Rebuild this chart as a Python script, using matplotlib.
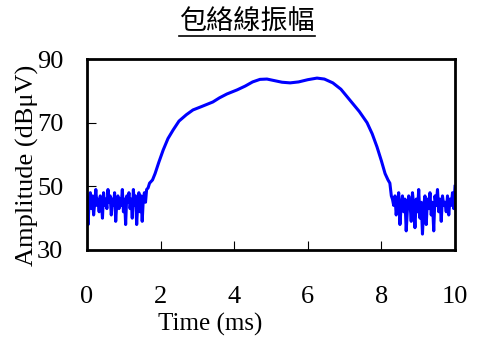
import numpy as np
import matplotlib
matplotlib.use("Agg")
from matplotlib import pyplot as plt
from matplotlib.lines import Line2D

plt.rcParams["font.family"] = ["Liberation Serif", "DejaVu Serif"]

# noisy floor before the pulse (dBuV)
left_noise = [44, 38, 46, 48, 43, 47, 41, 45, 49, 44, 46, 42, 47, 45, 40, 48, 44, 46, 43, 49,
              45, 47, 41, 46, 44, 48, 39, 45, 47, 43, 46, 44, 49, 42, 46, 38, 47, 45, 48, 43,
              46, 40, 49, 44, 47, 38, 45, 48, 42, 47, 39, 46, 48, 45, 49]
left_t = np.linspace(0, 1.62, len(left_noise))

# envelope of the pulse
pulse_t = [1.66, 1.70, 1.78, 1.85, 1.95, 2.07, 2.20, 2.34, 2.50, 2.70, 2.88, 3.10, 3.42, 3.60,
           3.80, 4.08, 4.30, 4.50, 4.70, 4.89, 5.10, 5.30, 5.52, 5.75, 6.00, 6.25, 6.45, 6.68,
           6.90, 7.15, 7.40, 7.61, 7.75, 7.88, 8.00, 8.10, 8.18, 8.23, 8.27]
pulse_y = [49.5, 51, 52, 54, 57.5, 61.4, 65, 67.7, 70.5, 72.5, 74, 75, 76.5, 77.8,
           79, 80.3, 81.5, 82.8, 83.6, 83.7, 83.2, 82.7, 82.5, 82.8, 83.5, 84, 83.7, 82.5,
           80.5, 77, 73.5, 70, 66.5, 62.4, 58, 54, 52, 51, 47]

# noisy floor after the pulse
right_noise = [46, 44, 47, 41, 45, 48, 38, 44, 47, 42, 46, 36, 43, 47, 45, 39, 48, 44, 37, 46,
               42, 49, 40, 45, 35, 44, 47, 38, 46, 43, 48, 41, 45, 36, 47, 44, 49, 42, 46, 39,
               47, 44, 45, 42, 47, 41, 46, 44, 48, 43, 50]
right_t = np.linspace(8.30, 10.0, len(right_noise))

t = np.concatenate([left_t, pulse_t, right_t])
amp = np.concatenate([left_noise, pulse_y, right_noise])

fig = plt.figure(figsize=(4.78, 3.37), dpi=100)
ax = fig.add_axes([87/478, 1 - 250/337, (455-87)/478, (250-59)/337])
ax.plot(t, amp, color="#0000ff", lw=2.2)

ax.set_xlim(0, 10)
ax.set_ylim(30, 90)
ax.set_xticks([0, 2, 4, 6, 8, 10])
ax.set_yticks([30, 50, 70, 90])
ax.tick_params(axis="both", direction="in", length=6.5, width=0.8, labelsize=19)
ax.tick_params(axis="x", pad=26)
ax.tick_params(axis="y", pad=17)
for s in ax.spines.values():
    s.set_linewidth(2)

fig.text(210/478, 1/337, "Time (ms)", fontsize=18, ha="center", va="bottom")
fig.text(27/478, 1 - 165/337, "Amplitude (dB\u03bcV)", fontsize=19, rotation=90,
         ha="center", va="center")
title = fig.text(247/478, 1 - 22/337, "包絡線振幅", fontsize=19.5,
                 family=["Noto Sans CJK TC", "DejaVu Sans"], ha="center", va="center")

fig.canvas.draw()
bb = title.get_window_extent(fig.canvas.get_renderer()).transformed(fig.transFigure.inverted())
uy = 1 - 36/337
fig.add_artist(Line2D([bb.x0, bb.x1], [uy, uy], transform=fig.transFigure,
                      color="black", lw=1.2))

fig.savefig("out.png", dpi=100)
